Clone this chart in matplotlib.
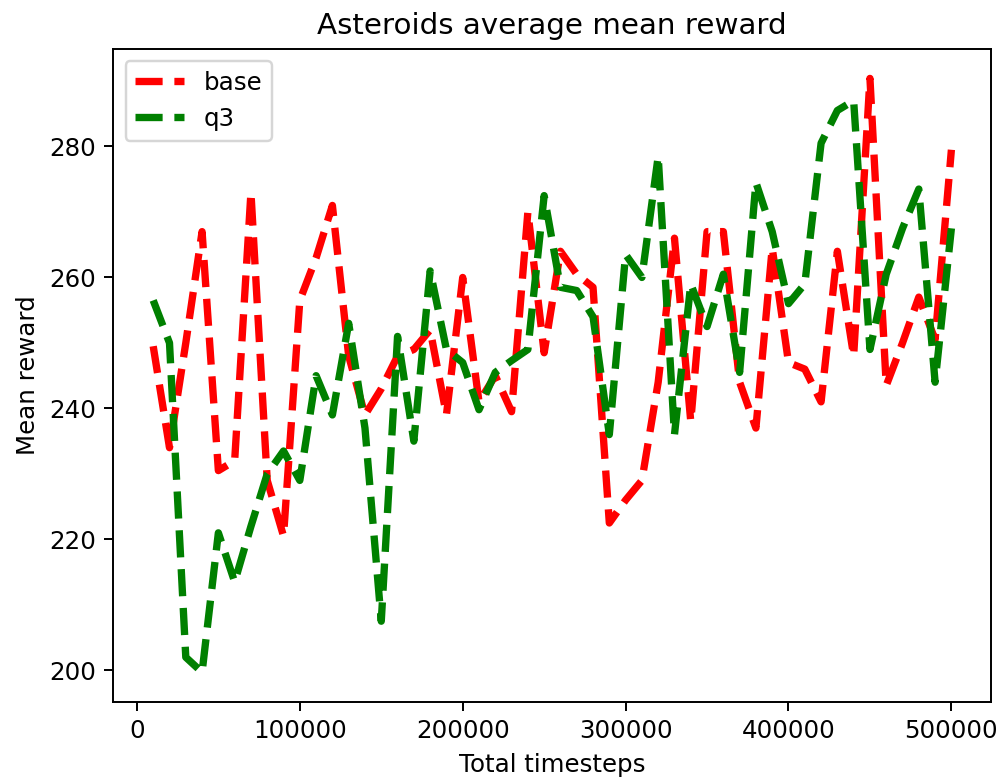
import matplotlib
matplotlib.use("Agg")
import matplotlib.pyplot as plt

timesteps = list(range(10000, 500001, 10000))

base = [249.5, 234, 250, 267, 230.5, 232, 273, 229, 220.5, 256.5,
        263, 271, 248, 239, 243, 248, 249, 252, 239, 260,
        241, 245, 239.5, 270, 248.5, 264, 260.5, 258.5, 222.5, 226,
        229, 244, 266, 238, 267, 267, 244, 237, 264.5, 247,
        246, 241, 264, 248, 290.4, 243.5, 250, 257, 250.5, 279.5]

q3 = [256.5, 250, 202, 199.7, 221, 213.5, 222, 230, 233.5, 229,
      245, 239, 253, 237, 207.5, 251, 235, 261, 249, 247,
      239.8, 245.5, 247.3, 249, 272.5, 258.5, 258, 254, 236, 263.5,
      260, 278.5, 236, 259, 252.5, 260.5, 245.5, 274.5, 267, 256,
      259, 280.5, 285.5, 287, 249, 260.5, 267.5, 273.5, 244, 267.5]

W, H, DPI = 1003, 782, 176
fig = plt.figure(figsize=(W/DPI, H/DPI), dpi=DPI)
ax = fig.add_axes([113.3/W, 1 - 702/H, (991.3-113.3)/W, (702-48.7)/H])
ax.plot(timesteps, base, '--', color='red', linewidth=3, label='base')
ax.plot(timesteps, q3, '--', color='green', linewidth=3, label='q3')
ax.set_title('Asteroids average mean reward')
ax.set_xlabel('Total timesteps')
ax.set_ylabel('Mean reward')
ax.legend(loc='upper left')
fig.savefig('out.png', dpi=DPI)
